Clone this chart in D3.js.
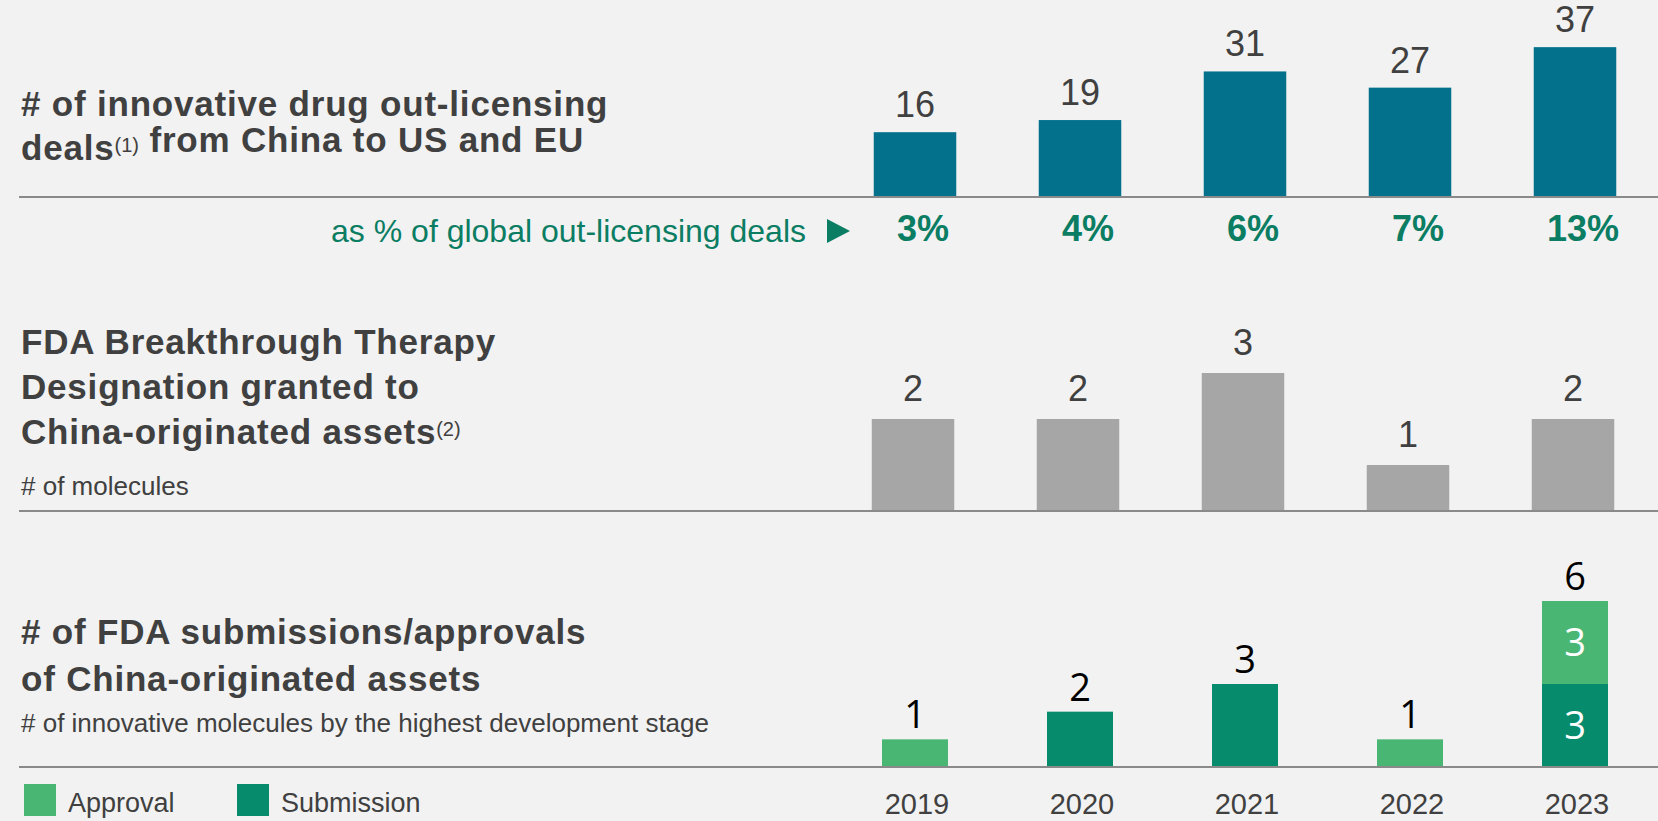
<!DOCTYPE html>
<html>
<head>
<meta charset="utf-8">
<script src="https://cdn.jsdelivr.net/npm/d3@7"></script>
<style>
  body { margin: 0; background: #f2f2f2; }
  svg { display: block; font-family: "Liberation Sans", Arial, sans-serif; }
</style>
</head>
<body>
<div class="chart"></div>
<script>
const years = ["2019", "2020", "2021", "2022", "2023"]
const outLicensingDeals = [16, 19, 31, 27, 37]
const globalShare = ["3%", "4%", "6%", "7%", "13%"]
const breakthroughDesignations = [2, 2, 3, 1, 2]
const fdaSubmissions = [0, 2, 3, 0, 3]
const fdaApprovals = [1, 0, 0, 1, 3]
const stageKeys = ["Submission", "Approval"]
const legendKeys = ["Approval", "Submission"]

const width = 1658,
    height = 821

const textGrey = "#404040",
    green = "#0b7d63"
const stageColor = d3.scaleOrdinal()
    .domain(stageKeys)
    .range(["#068b6c", "#4ab673"])

const svg = d3.select(".chart")
    .append("svg")
    .attr("width", width)
    .attr("height", height)

svg.append("rect")
    .attr("width", width)
    .attr("height", height)
    .attr("fill", "#f2f2f2")

const x = d3.scaleBand()
    .domain(years)
    .range([832.5, 1657.5])

// panel baselines / scales
const yDeals = d3.scaleLinear().domain([0, 40]).range([197, 35])
const yBtd = d3.scaleLinear().domain([0, 3]).range([511, 373])
const yFda = d3.scaleLinear().domain([0, 6]).range([767, 601])

function baseline(y0) {
    svg.append("line")
        .attr("x1", 19)
        .attr("x2", width)
        .attr("y1", y0)
        .attr("y2", y0)
        .attr("stroke", "#8a8a8a")
        .attr("stroke-width", 2)
}

function title(lines, x0, y0, step) {
    const t = svg.append("g")
        .attr("font-weight", "bold")
        .attr("font-size", 35)
        .attr("fill", textGrey)
        .style("letter-spacing", "0.8px")
    lines.forEach((line, i) => {
        const txt = t.append("text")
            .attr("x", x0)
            .attr("y", y0 + i * step)
        line.forEach((part) => {
            if (typeof part === "string") {
                txt.append("tspan").text(part)
            } else {
                // footnote marker
                txt.append("tspan")
                    .attr("font-size", 20)
                    .attr("font-weight", "normal")
                    .style("letter-spacing", "0px")
                    .attr("dy", -8)
                    .text(part.note)
                txt.append("tspan").attr("dy", 8).text("")
            }
        })
    })
}

function subtitle(text, y0) {
    svg.append("text")
        .attr("x", 21)
        .attr("y", y0)
        .attr("font-size", 26)
        .attr("fill", textGrey)
        .text(text)
}

// ---- panel 1: out-licensing deals
title([["# of innovative drug out-licensing"], ["deals", {note: "(1)"}, " from China to US and EU"]], 21, 116, 44)

const dealBars = svg.append("g")
dealBars.selectAll("rect")
    .data(years)
    .enter()
    .append("rect")
    .attr("x", d => x(d) + x.bandwidth() * 0.25)
    .attr("width", x.bandwidth() * 0.5)
    .attr("y", (d, i) => yDeals(outLicensingDeals[i]))
    .attr("height", (d, i) => yDeals(0) - yDeals(outLicensingDeals[i]))
    .attr("fill", "#03718c")

dealBars.selectAll("text")
    .data(years)
    .enter()
    .append("text")
    .attr("x", d => x(d) + x.bandwidth() / 2)
    .attr("y", (d, i) => yDeals(outLicensingDeals[i]) - 15)
    .attr("text-anchor", "middle")
    .attr("font-size", 36)
    .attr("fill", textGrey)
    .text((d, i) => outLicensingDeals[i])

baseline(yDeals(0))

svg.append("text")
    .attr("x", 806)
    .attr("y", 242)
    .attr("text-anchor", "end")
    .attr("font-size", 32)
    .attr("fill", green)
    .text("as % of global out-licensing deals")

svg.append("path")
    .attr("d", d3.line()([[827, 219], [850, 231], [827, 243]]) + "Z")
    .attr("fill", green)

svg.append("g")
    .selectAll("text")
    .data(years)
    .enter()
    .append("text")
    .attr("x", d => x(d) + x.bandwidth() / 2 + 8)
    .attr("y", 241)
    .attr("text-anchor", "middle")
    .attr("font-size", 36)
    .attr("font-weight", "bold")
    .attr("fill", green)
    .text((d, i) => globalShare[i])

// ---- panel 2: breakthrough therapy designation
title([["FDA Breakthrough Therapy"], ["Designation granted to"], ["China-originated assets", {note: "(2)"}]], 21, 354, 45)
subtitle("# of molecules", 495)

const btdBars = svg.append("g")
btdBars.selectAll("rect")
    .data(years)
    .enter()
    .append("rect")
    .attr("x", d => x(d) + x.bandwidth() * 0.25 - 2)
    .attr("width", x.bandwidth() * 0.5)
    .attr("y", (d, i) => yBtd(breakthroughDesignations[i]))
    .attr("height", (d, i) => yBtd(0) - yBtd(breakthroughDesignations[i]))
    .attr("fill", "#a6a6a6")

btdBars.selectAll("text")
    .data(years)
    .enter()
    .append("text")
    .attr("x", d => x(d) + x.bandwidth() / 2 - 2)
    .attr("y", (d, i) => yBtd(breakthroughDesignations[i]) - 18)
    .attr("text-anchor", "middle")
    .attr("font-size", 36)
    .attr("fill", textGrey)
    .text((d, i) => breakthroughDesignations[i])

baseline(yBtd(0))

// ---- panel 3: FDA submissions / approvals
title([["# of FDA submissions/approvals"], ["of China-originated assets"]], 21, 644, 47)
subtitle("# of innovative molecules by the highest development stage", 732)

const fdaData = years.map((year, i) => ({
    year: year,
    Submission: fdaSubmissions[i],
    Approval: fdaApprovals[i]
}))
const stacked = d3.stack().keys(stageKeys)(fdaData)
const barW = x.bandwidth() * 0.4

const layers = svg.append("g")
    .selectAll("g")
    .data(stacked)
    .enter()
    .append("g")
    .attr("fill", d => stageColor(d.key))

layers.selectAll("rect")
    .data(d => d.filter(s => s[1] > s[0]))
    .enter()
    .append("rect")
    .attr("x", d => x(d.data.year) + (x.bandwidth() - barW) / 2)
    .attr("width", barW)
    .attr("y", d => yFda(d[1]))
    .attr("height", d => yFda(d[0]) - yFda(d[1]))

// segment labels only where a bar holds both stages
layers.selectAll("text")
    .data(d => d.filter(s => s.data.Submission > 0 && s.data.Approval > 0))
    .enter()
    .append("text")
    .attr("x", d => x(d.data.year) + x.bandwidth() / 2)
    .attr("y", d => (yFda(d[0]) + yFda(d[1])) / 2)
    .attr("dy", "0.36em")
    .attr("font-family", "'Open Sans', sans-serif")
    .attr("font-size", 38)
    .attr("text-anchor", "middle")
    .attr("fill", "#ffffff")
    .text(d => d[1] - d[0])

svg.append("g")
    .attr("font-family", "'Open Sans', sans-serif")
    .attr("font-size", 38)
    .attr("text-anchor", "middle")
    .selectAll("text")
    .data(fdaData)
    .enter()
    .append("text")
    .attr("x", d => x(d.year) + x.bandwidth() / 2)
    .attr("y", d => yFda(d.Submission + d.Approval) - 11)
    .attr("fill", "#000000")
    .text(d => d.Submission + d.Approval)

baseline(yFda(0))

// years
svg.append("g")
    .selectAll("text")
    .data(years)
    .enter()
    .append("text")
    .attr("x", d => x(d) + x.bandwidth() / 2 + 2)
    .attr("y", 814)
    .attr("text-anchor", "middle")
    .attr("font-size", 29)
    .attr("fill", textGrey)
    .text(d => d)

// legend
const legend = svg.append("g")
    .selectAll("g")
    .data(legendKeys)
    .enter()
    .append("g")
    .attr("transform", (d, i) => `translate(${24 + i * 213},784)`)

legend.append("rect")
    .attr("width", 32)
    .attr("height", 32)
    .attr("fill", d => stageColor(d))

legend.append("text")
    .attr("x", 44)
    .attr("y", 28)
    .attr("font-size", 27)
    .attr("fill", textGrey)
    .text(d => d)
</script>
</body>
</html>
